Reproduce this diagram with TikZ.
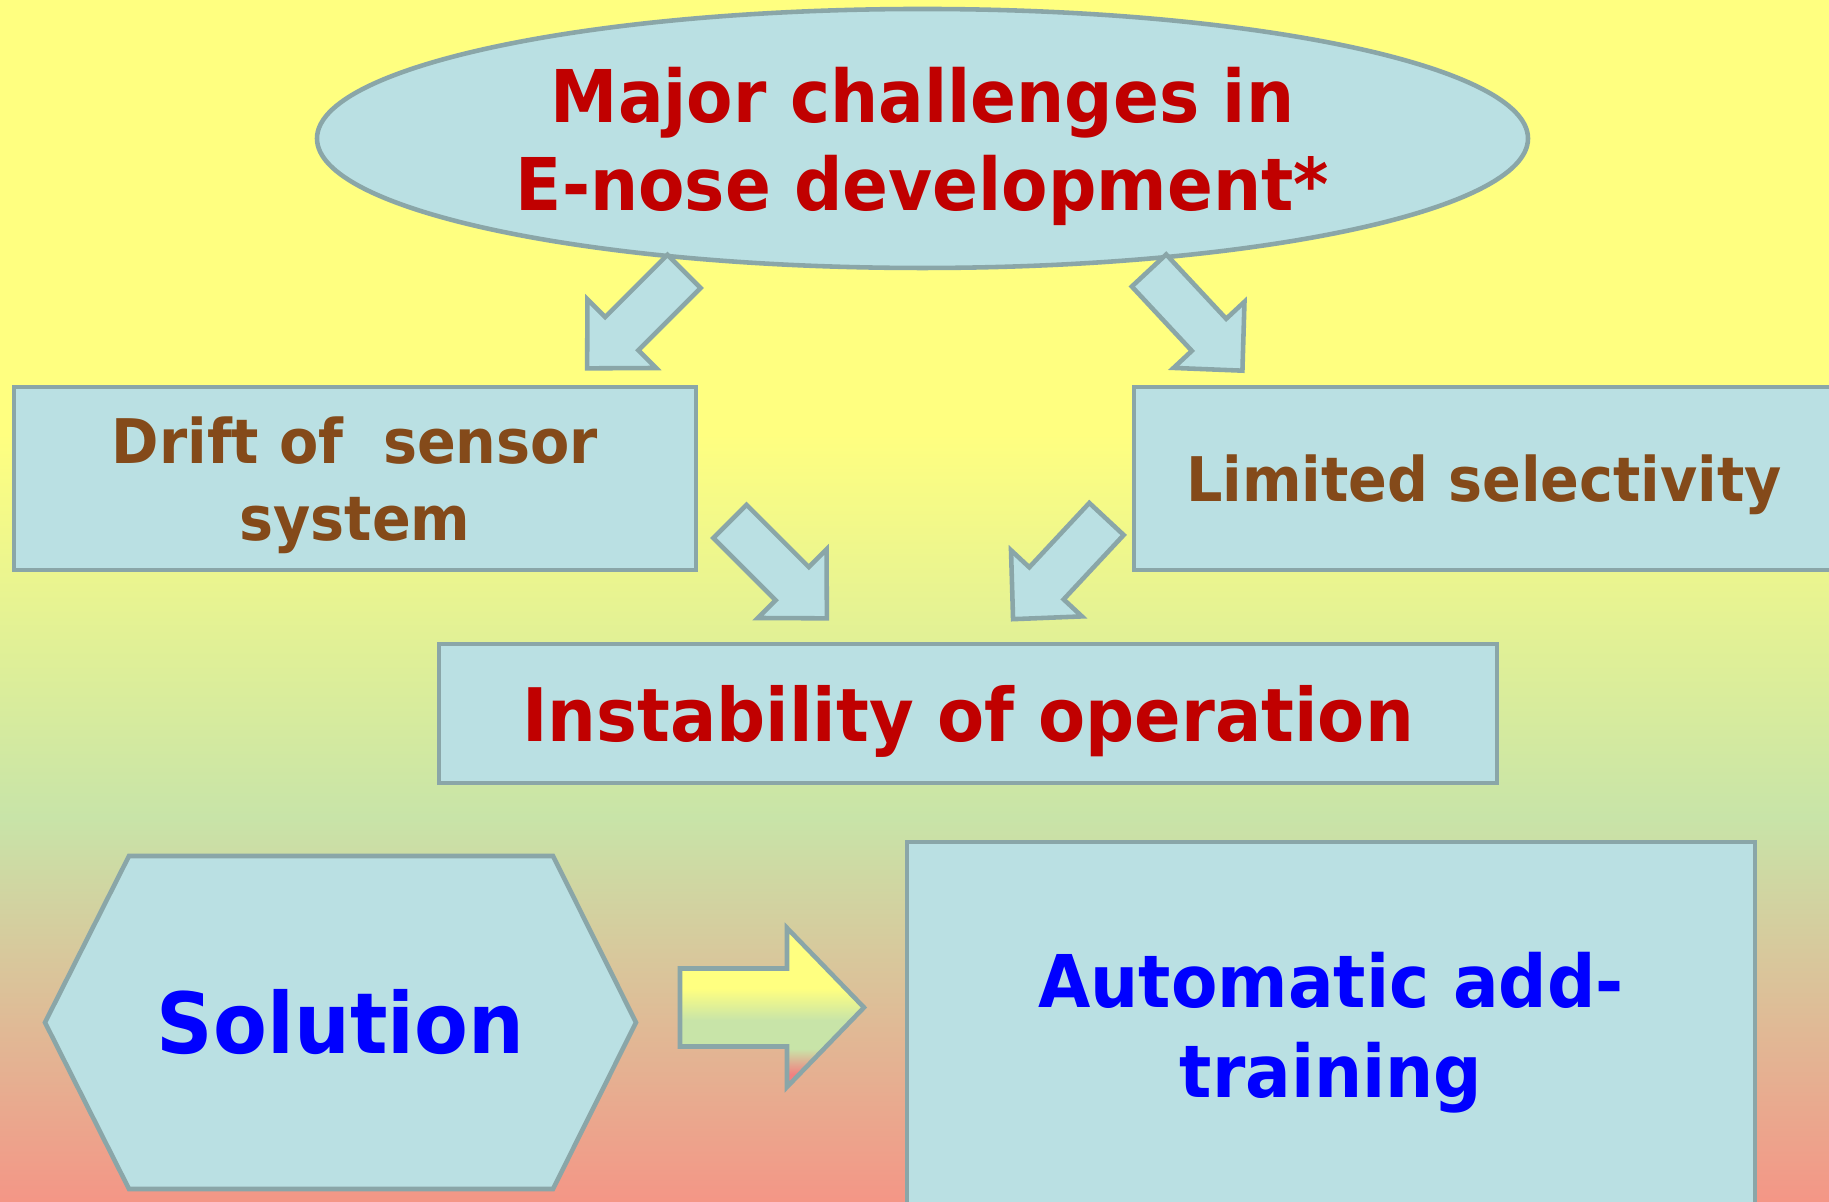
\documentclass[tikz,border=0pt]{standalone}
\usepackage{xcolor}
\usepackage{amsmath}
\usepackage{fontspec}
\setmainfont{DejaVu Sans}[FakeStretch=0.93]
\usepackage{tikz}
\usetikzlibrary{shapes.geometric}

\definecolor{boxfill}{RGB}{186,224,227}
\definecolor{boxedge}{RGB}{138,166,168}
\definecolor{titlered}{RGB}{192,0,0}
\definecolor{causebrown}{RGB}{132,74,26}
\definecolor{answerblue}{RGB}{0,0,255}
\definecolor{bgyellow}{RGB}{255,255,128}
\definecolor{bggreen}{RGB}{200,228,168}
\definecolor{bgsalmon}{RGB}{244,150,134}
\definecolor{arrowred}{RGB}{242,128,128}

\pgfdeclareverticalshading{backdrop}{100bp}{color(0bp)=(bgsalmon); color(25bp)=(bgsalmon); color(41bp)=(bggreen); color(57bp)=(bgyellow); color(100bp)=(bgyellow)}
\pgfdeclareverticalshading{arrowfill}{100bp}{color(0bp)=(arrowred); color(29bp)=(arrowred); color(37bp)=(bggreen); color(46bp)=(bggreen); color(56bp)=(bgyellow); color(100bp)=(bgyellow)}

\tikzset{
        panel/.style={draw=boxedge, fill=boxfill, line width=1.3pt, inner sep=0pt, align=center},
        blockarrow/.style={draw=boxedge, fill=boxfill, line width=1.3pt},
}

\begin{document}
\begin{tikzpicture}
        \useasboundingbox (0,0) rectangle (18.29,12.02);
        \clip (0,0) rectangle (18.29,12.02);
        \shade[shading=backdrop] (0,0) rectangle (18.29,12.02);

        \node[panel, ellipse, minimum width=12.11cm, minimum height=2.59cm, text=titlered, font=\bfseries\fontsize{20.7}{25}\selectfont] (major) at (9.225,10.635) {Major challenges in\\\smash[b]{E-nose development*}};

        \foreach \x/\y/\a in {6.84/9.305/225, 11.49/9.315/313, 7.30/6.805/315, 11.065/6.83/227} {
                \filldraw[blockarrow, shift={(\x,\y)}, rotate=\a] (0,-0.235) -- (0.88,-0.235) -- (0.88,-0.485) -- (1.37,0) -- (0.88,0.485) -- (0.88,0.235) -- (0,0.235) -- cycle;
        }

        \node[panel, minimum width=6.82cm, minimum height=1.83cm, text=causebrown, font=\bfseries\fontsize{17.5}{21.8}\selectfont] (drift) at (3.55,7.235) {Drift of\ \ sensor\\\smash[b]{system}};
        \node[panel, minimum width=7.0cm, minimum height=1.83cm, text=causebrown, font=\bfseries\fontsize{17.5}{21.8}\selectfont] (select) at (14.84,7.235) {\smash[b]{Limited selectivity}};

        \node[panel, minimum width=10.58cm, minimum height=1.39cm, text=titlered, font=\bfseries\fontsize{21}{25}\selectfont] (instab) at (9.68,4.885) {\smash[b]{Instability of operation}};

        \filldraw[blockarrow] (0.45,1.795) -- (1.29,3.46) -- (5.53,3.46) -- (6.36,1.795) -- (5.53,0.13) -- (1.29,0.13) -- cycle;
        \node[text=answerblue, font=\bfseries\fontsize{24}{29}\selectfont] (sol) at (3.405,1.795) {Solution};

        \shadedraw[shading=arrowfill, draw=boxedge, line width=1.3pt] (6.80,2.335) -- (7.87,2.335) -- (7.87,2.74) -- (8.64,1.945) -- (7.87,1.15) -- (7.87,1.555) -- (6.80,1.555) -- cycle;

        \node[panel, minimum width=8.48cm, minimum height=3.66cm, text=answerblue, font=\bfseries\fontsize{20.7}{25.5}\selectfont] (auto) at (13.31,1.77) {Automatic add-\\\smash[b]{training}};
\end{tikzpicture}
\end{document}
